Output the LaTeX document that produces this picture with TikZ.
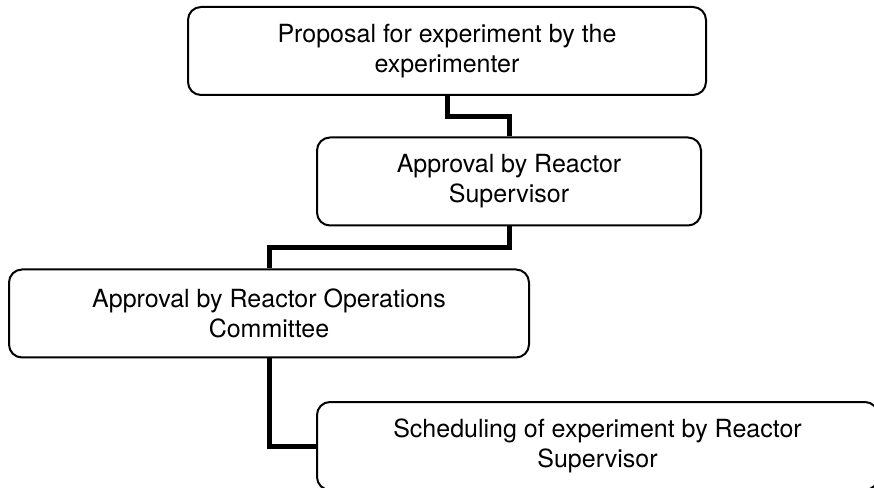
\documentclass[tikz,border=0pt]{standalone}
\usepackage{fontspec}
\setmainfont{TeX Gyre Heros}
\usepackage{tikz}
\usetikzlibrary{calc}

\begin{document}
\begin{tikzpicture}[x=1pt,y=1pt]
        \tikzset{
            style stage/.style={draw=black,line width=2pt,rounded corners=13pt,
                align=center,minimum height=88pt,inner sep=0pt,
                font=\fontsize{25}{30}\selectfont},
            style link/.style={draw=black,line width=5pt}
        };
        \useasboundingbox (0,0) rectangle (874,487);
        \clip (0,0) rectangle (874,487);
        \node[style stage,minimum width=518pt] (proposal) at (447,436) {Proposal for experiment by the\\experimenter};
        \node[style stage,minimum width=384pt] (supervisor) at (509,305.5) {Approval by Reactor\\Supervisor};
        \node[style stage,minimum width=520pt] (committee) at (269,173.5) {Approval by Reactor Operations\\Committee};
        \node[style stage,minimum width=561pt] (scheduling) at (597.5,41) {Scheduling of experiment by Reactor\\Supervisor};
        \draw[style link] (proposal.south) |- ($(proposal.south)!.5!(supervisor.north)$) -| (supervisor.north);
        \draw[style link] (supervisor.south) |- ($(supervisor.south)!.5!(committee.north)$) -| (committee.north);
        \draw[style link] (committee.south) |- (scheduling.west);
    \end{tikzpicture}
\end{document}
